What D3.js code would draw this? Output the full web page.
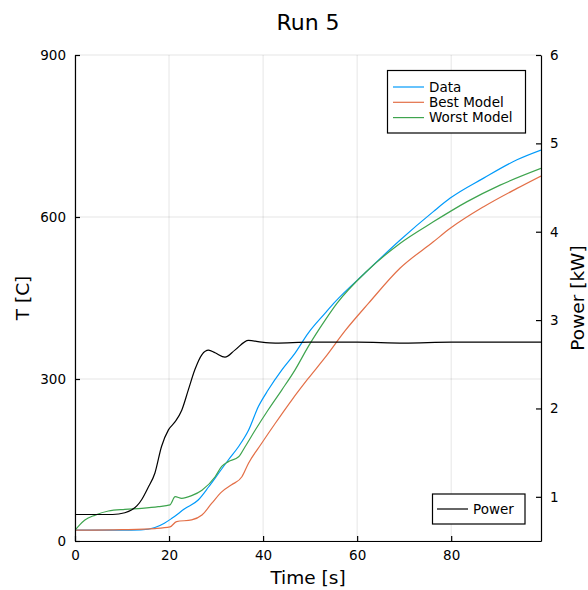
<!DOCTYPE html>
<html>
<head>
<meta charset="utf-8">
<script src="https://cdn.jsdelivr.net/npm/d3@7"></script>
<style>
  html, body { margin: 0; padding: 0; background: #fff; }
  svg { display: block; font-family: "DejaVu Sans", sans-serif; }
</style>
</head>
<body>
<svg id="chart" width="588" height="590"></svg>
<script>
// ---- data ----
const dataTime = [0, 5, 10, 14, 17, 19, 20.6, 23.4, 26.2, 28.4, 30.5, 32.6, 34.8, 36.9, 39, 41.1, 44, 46.8, 49.6, 53.2, 55, 62, 69.1, 76.2, 79.8, 86.9, 94, 99.1];
const dataTemp = [20, 20, 20, 20.5, 25, 33, 42, 60, 76, 100, 125, 150, 175, 205, 249, 280, 317, 348, 385, 422, 440, 499, 557, 610, 635, 672, 706, 724];

const bestTime = [0, 10, 17, 20.2, 21.6, 24.8, 27, 29.1, 31.2, 33.3, 35.5, 36.9, 39.7, 42.6, 46.1, 49.6, 53.2, 57.5, 62.4, 69.1, 76.2, 79.8, 86.9, 94, 99.1];
const bestTemp = [20, 21, 23, 26, 36, 39, 48, 70, 91, 104, 119, 144, 181, 218, 261, 301, 340, 390, 440, 505, 554, 579, 619, 653, 676];

const worstTime = [0, 1, 2.1, 4.3, 7.1, 10.6, 14.2, 17.7, 20.2, 21.3, 22.7, 24.8, 27, 29.8, 31.2, 32.6, 34.8, 36.2, 38.3, 41.1, 44, 46.8, 49.6, 53.2, 55.7, 62, 69.1, 76.2, 83.3, 90.4, 99.1];
const worstTemp = [20, 30, 39, 48, 55.5, 58.6, 60.5, 63.5, 67, 82, 79, 84, 94, 119, 138, 147, 156, 175, 205, 243, 280, 317, 360, 409, 440, 499, 551, 591, 628, 659, 690];

const powerTime = [0, 8, 10.6, 12, 13.2, 14.2, 15.5, 17, 18.4, 19.9, 21.3, 22.7, 24.1, 25.5, 27, 28.4, 29.8, 31.9, 34, 36.9, 39.7, 42.6, 50, 60, 70, 80, 90, 99.1];
const powerKW = [0.80, 0.80, 0.82, 0.85, 0.90, 0.97, 1.10, 1.27, 1.57, 1.76, 1.85, 1.98, 2.21, 2.44, 2.61, 2.66, 2.63, 2.58, 2.66, 2.77, 2.75, 2.74, 2.75, 2.75, 2.74, 2.75, 2.75, 2.75];

const xTicks = [0, 20, 40, 60, 80];
const tempTicks = [0, 300, 600, 900];
const powerTicks = [1, 2, 3, 4, 5, 6];

const seriesNames = ["Data", "Best Model", "Worst Model"];
const seriesColors = ["#009AFA", "#E36F47", "#3EA44E"];
const powerName = "Power";

// ---- layout ----
const svg = d3.select("#chart");
const L = 75, R = 541, T = 55, B = 541;

const x = d3.scaleLinear().domain([0, 99.1]).range([L, R]);
const yT = d3.scaleLinear().domain([0, 900]).range([B, T]);
const yP = d3.scaleLinear().domain([0.5, 6]).range([B, T]);

svg.append("rect").attr("width", 588).attr("height", 590).attr("fill", "#fff");

// grid
const grid = svg.append("g").attr("stroke", "#000").attr("stroke-opacity", 0.1).attr("stroke-width", 1);
xTicks.forEach(v => grid.append("line")
  .attr("x1", x(v)).attr("x2", x(v)).attr("y1", T).attr("y2", B));
tempTicks.forEach(v => grid.append("line")
  .attr("x1", L).attr("x2", R).attr("y1", yT(v)).attr("y2", yT(v)));

// lines
const clip = svg.append("clipPath").attr("id", "clip")
  .append("rect").attr("x", L).attr("y", T).attr("width", R - L).attr("height", B - T);
const plot = svg.append("g").attr("clip-path", "url(#clip)");

function drawLine(ts, vs, yScale, color) {
  const pts = ts.map((t, i) => [t, vs[i]]);
  const line = d3.line().x(d => x(d[0])).y(d => yScale(d[1])).curve(d3.curveMonotoneX);
  plot.append("path").datum(pts).attr("d", line)
    .attr("fill", "none").attr("stroke", color).attr("stroke-width", 1.2)
    .attr("stroke-linejoin", "round");
}
drawLine(dataTime, dataTemp, yT, seriesColors[0]);
drawLine(bestTime, bestTemp, yT, seriesColors[1]);
drawLine(worstTime, worstTemp, yT, seriesColors[2]);
drawLine(powerTime, powerKW, yP, "#000");

// axes
const fs = 13.5;
const xAxis = d3.axisBottom(x).tickValues(xTicks).tickFormat(d3.format("d")).tickSizeInner(-5).tickSizeOuter(0).tickPadding(9);
const gx = svg.append("g").attr("transform", `translate(0,${B})`).call(xAxis);
const yAxisL = d3.axisLeft(yT).tickValues(tempTicks).tickFormat(d3.format("d")).tickSizeInner(-5).tickSizeOuter(0).tickPadding(9);
const gyl = svg.append("g").attr("transform", `translate(${L},0)`).call(yAxisL);
const yAxisR = d3.axisRight(yP).tickValues(powerTicks).tickFormat(d3.format("d")).tickSizeInner(-5).tickSizeOuter(0).tickPadding(9);
const gyr = svg.append("g").attr("transform", `translate(${R},0)`).call(yAxisR);
[gx, gyl, gyr].forEach(g => {
  g.select(".domain").attr("stroke", "#000").attr("stroke-width", 1.2);
  g.selectAll(".tick line").attr("stroke", "#000").attr("stroke-width", 1.2);
  g.selectAll(".tick text").attr("font-size", fs).attr("font-family", "DejaVu Sans").attr("fill", "#000");
});
gx.selectAll(".tick text").attr("dy", "0.71em");

// title & labels
svg.append("text").attr("x", (L + R) / 2).attr("y", 30).attr("text-anchor", "middle")
  .attr("font-size", 22).text("Run 5");
svg.append("text").attr("x", (L + R) / 2).attr("y", 584).attr("text-anchor", "middle")
  .attr("font-size", 18.5).text("Time [s]");
svg.append("text").attr("transform", `translate(29,${(T + B) / 2}) rotate(-90)`).attr("text-anchor", "middle")
  .attr("font-size", 18.5).text("T [C]");
svg.append("text").attr("transform", `translate(584,${(T + B) / 2}) rotate(-90)`).attr("text-anchor", "middle")
  .attr("font-size", 18.5).text("Power [kW]");

// legend 1
const lg = svg.append("g");
lg.append("rect").attr("x", 387.5).attr("y", 70.5).attr("width", 138).attr("height", 62.5)
  .attr("fill", "#fff").attr("stroke", "#000").attr("stroke-width", 1.2);
seriesNames.forEach((n, i) => {
  const yy = 87 + i * 15.3;
  lg.append("line").attr("x1", 393).attr("x2", 424).attr("y1", yy).attr("y2", yy)
    .attr("stroke", seriesColors[i]).attr("stroke-width", 1.2);
  lg.append("text").attr("x", 429).attr("y", yy).attr("dy", "0.35em")
    .attr("font-size", fs).text(n);
});

// legend 2
const lg2 = svg.append("g");
lg2.append("rect").attr("x", 432.5).attr("y", 494).attr("width", 92.5).attr("height", 30)
  .attr("fill", "#fff").attr("stroke", "#000").attr("stroke-width", 1.2);
lg2.append("line").attr("x1", 437).attr("x2", 468).attr("y1", 509).attr("y2", 509)
  .attr("stroke", "#000").attr("stroke-width", 1.2);
lg2.append("text").attr("x", 473).attr("y", 509).attr("dy", "0.35em")
  .attr("font-size", fs).text(powerName);
</script>
</body>
</html>
